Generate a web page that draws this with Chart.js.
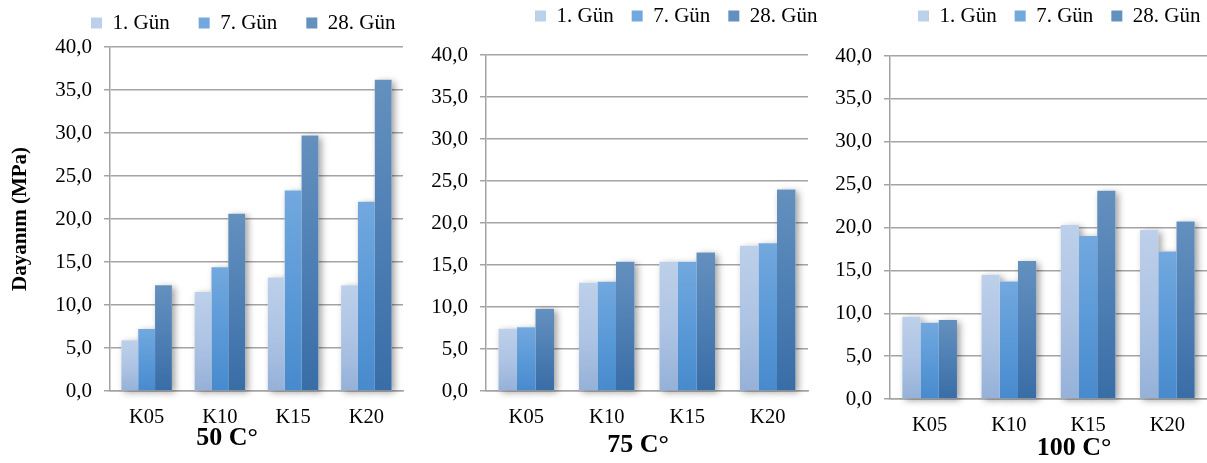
<!DOCTYPE html>
<html>
<head>
<meta charset="utf-8">
<script src="https://cdn.jsdelivr.net/npm/chart.js@4"></script>
<style>
  html, body { margin: 0; padding: 0; background: #fff; }
  #wrap { position: relative; width: 1207px; height: 463px; overflow: hidden; }
  canvas { position: absolute; top: 0; }
</style>
</head>
<body>
<div id="wrap">
  <canvas id="c50" width="404" height="463" style="left:0px"></canvas>
  <canvas id="c75" width="416" height="463" style="left:404px"></canvas>
  <canvas id="c100" width="399" height="463" style="left:808px"></canvas>
</div>
<script>
// Mixes and curing ages
const categories = ['K05', 'K10', 'K15', 'K20'];
const seriesNames = ['1. Gün', '7. Gün', '28. Gün'];
const tickLabels = ['0,0', '5,0', '10,0', '15,0', '20,0', '25,0', '30,0', '35,0', '40,0'];
const panelTitles = ['50 C°', '75 C°', '100 C°'];
const yAxisTitle = 'Dayanım (MPa)';

// Compressive strength (MPa) at 50 °C
const t50Day1 = [5.9, 11.5, 13.2, 12.3];
const t50Day7 = [7.2, 14.4, 23.3, 22.0];
const t50Day28 = [12.3, 20.6, 29.7, 36.2];
// at 75 °C
const t75Day1 = [7.4, 12.9, 15.4, 17.3];
const t75Day7 = [7.6, 13.0, 15.4, 17.6];
const t75Day28 = [9.8, 15.4, 16.5, 24.0];
// at 100 °C
const t100Day1 = [9.6, 14.5, 20.3, 19.7];
const t100Day7 = [8.9, 13.7, 19.0, 17.2];
const t100Day28 = [9.2, 16.1, 24.3, 20.7];

const SERIF = "'Liberation Serif', 'Times New Roman', serif";
const GRID = '#a4a4a4';

// top / middle / bottom shades of each series
const shades = [
  ['#bdd0ea', '#aec4e4', '#95b1d8'],
  ['#72a8de', '#5b9ad8', '#478acd'],
  ['#6490be', '#4e7fb4', '#396da6']
];

function barFill(stops) {
  return (ctx) => {
    const chart = ctx.chart;
    if (ctx.type !== 'data' || !chart.chartArea || !chart.scales || !chart.scales.y) return stops[1];
    const y = chart.scales.y;
    const top = y.getPixelForValue(ctx.raw);
    const base = y.getPixelForValue(0);
    if (!isFinite(top) || !isFinite(base) || base - top < 1) return stops[1];
    const g = chart.ctx.createLinearGradient(0, top, 0, base);
    g.addColorStop(0, stops[0]);
    g.addColorStop(0.5, stops[1]);
    g.addColorStop(1, stops[2]);
    return g;
  };
}

// soft drop shadow behind every bar, painted before the bars themselves
const barShadow = {
  id: 'barShadow',
  beforeDatasetsDraw(chart) {
    const ctx = chart.ctx;
    ctx.save();
    ctx.shadowColor = 'rgba(0,0,0,0.38)';
    ctx.shadowBlur = 7;
    ctx.shadowOffsetX = 3;
    ctx.shadowOffsetY = 2;
    ctx.fillStyle = '#ffffff';
    chart.getSortedVisibleDatasetMetas().forEach(meta => {
      meta.data.forEach(bar => {
        const p = bar.getProps(['x', 'y', 'base', 'width'], true);
        ctx.fillRect(p.x - p.width / 2, p.y, p.width, p.base - p.y);
      });
    });
    ctx.restore();
  }
};

// legend and panel caption are drawn at fixed spots and take no layout space
function collapseHeight(box) {
  if (!box || box._collapsed || typeof box.update !== 'function') return;
  const update = box.update;
  box.update = function () {
    update.apply(this, arguments);
    this.height = 0;
    if (this.minSize) this.minSize.height = 0;
  };
  box._collapsed = true;
}

const placeBoxes = {
  id: 'placeBoxes',
  beforeLayout(chart) {
    collapseHeight(chart.legend);
    collapseHeight(chart.titleBlock);
  },
  afterLayout(chart, args, opts) {
    const lg = chart.legend;
    if (lg) {
      const pad = lg.options.labels.padding;
      const size = lg.options.labels.font.size;
      lg.left = opts.legendX - pad;
      lg.right = lg.left + 1200;
      lg.top = opts.legendY - pad - size / 2;
      lg.bottom = lg.top + size + pad * 2;
      lg.width = lg.right - lg.left;
      lg.height = lg.bottom - lg.top;
    }
    const tb = chart.titleBlock;
    if (tb) {
      const lh = tb.options.font.size * 1.2;
      tb.left = opts.titleX - 200;
      tb.right = opts.titleX + 200;
      tb.top = opts.titleY - lh / 2;
      tb.bottom = tb.top + lh;
      tb.width = 400;
      tb.height = lh;
    }
  }
};

function makePanel(id, idx, day1, day7, day28, geo) {
  const values = [day1, day7, day28];
  const H = 463;
  new Chart(document.getElementById(id), {
    type: 'bar',
    data: {
      labels: categories,
      datasets: seriesNames.map((name, i) => ({
        label: name,
        data: values[i],
        backgroundColor: barFill(shades[i]),
        borderWidth: 0,
        categoryPercentage: 0.69,
        barPercentage: 1.0
      }))
    },
    options: {
      responsive: false,
      animation: false,
      events: [],
      layout: { padding: { top: geo.plotTop, right: geo.padRight, bottom: 0, left: 0 } },
      plugins: {
        tooltip: { enabled: false },
        legend: {
          display: true,
          position: 'top',
          align: 'start',
          labels: {
            font: { family: SERIF, size: 21 },
            color: '#000',
            boxWidth: 11,
            boxHeight: 11,
            padding: geo.legendGap
          }
        },
        title: {
          display: true,
          position: 'bottom',
          text: panelTitles[idx],
          color: '#000',
          padding: 0,
          font: { family: SERIF, size: 26, weight: 'bold', lineHeight: 1.2 }
        },
        placeBoxes: { legendX: geo.legendX, legendY: geo.legendY, titleX: geo.titleX, titleY: geo.titleY }
      },
      scales: {
        x: {
          grid: { display: false, drawTicks: false },
          border: { display: true, color: GRID, width: 1.5 },
          ticks: { color: '#000', font: { family: SERIF, size: 20.5 }, padding: 14, maxRotation: 0 },
          afterFit: (s) => { s.height = H - geo.plotBottom; }
        },
        y: {
          min: 0,
          max: 40,
          ticks: {
            stepSize: 5,
            color: '#000',
            padding: 12,
            font: { family: SERIF, size: 21 },
            callback: (v, i) => tickLabels[i]
          },
          grid: { color: GRID, lineWidth: 1.5, tickLength: 6, tickColor: GRID },
          border: { display: true, color: GRID, width: 1.5 },
          title: {
            display: geo.yTitle,
            text: yAxisTitle,
            color: '#000',
            padding: { top: 8, bottom: 0 },
            font: { family: SERIF, size: 21, weight: 'bold', lineHeight: 1.2 }
          },
          afterFit: (s) => { s.width = geo.yWidth; }
        }
      }
    },
    plugins: [barShadow, placeBoxes]
  });
}

makePanel('c50', 0, t50Day1, t50Day7, t50Day28,
  { yWidth: 110, padRight: 1, plotTop: 47, plotBottom: 391, legendX: 91, legendY: 23, legendGap: 29, titleX: 227, titleY: 438, yTitle: true });
makePanel('c75', 1, t75Day1, t75Day7, t75Day28,
  { yWidth: 82, padRight: 12, plotTop: 55, plotBottom: 391, legendX: 131, legendY: 16, legendGap: 18, titleX: 234, titleY: 445, yTitle: false });
makePanel('c100', 2, t100Day1, t100Day7, t100Day28,
  { yWidth: 82, padRight: 0, plotTop: 56, plotBottom: 399, legendX: 110, legendY: 16, legendGap: 18, titleX: 266, titleY: 448, yTitle: false });
</script>
</body>
</html>
